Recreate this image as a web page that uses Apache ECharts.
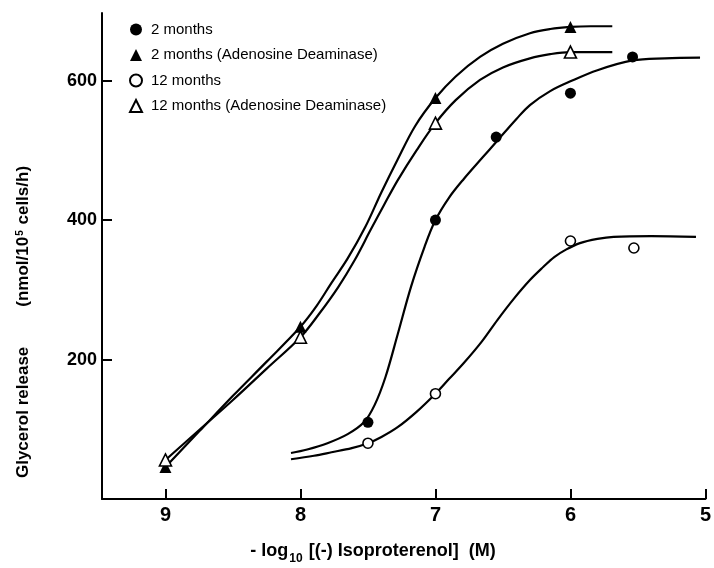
<!DOCTYPE html>
<html><head><meta charset="utf-8">
<script src="https://cdn.jsdelivr.net/npm/echarts@6/dist/echarts.min.js"></script>
<style>html,body{margin:0;padding:0;background:#fff}#c{width:714px;height:568px}</style>
</head><body><div id="c"></div>
<script>
// axis ticks
const xTicks = [9, 8, 7, 6, 5];
const yTicks = [200, 400, 600];
// series names
const names = ['2 months', '2 months (Adenosine Deaminase)', '12 months', '12 months (Adenosine Deaminase)'];
// measured points
const m2X = [7.5, 7.0, 6.55, 6.0, 5.54];
const m2Y = [110, 400, 519, 582, 634];
const m2adX = [9, 8, 7, 6];
const m2adY = [46, 247, 575, 677];
const m12X = [7.5, 7.0, 6.0, 5.53];
const m12Y = [80, 151, 370, 360];
const m12adX = [9, 8, 7, 6];
const m12adY = [56, 232, 539, 641];
// fitted curves
const c2X = [8.07, 7.95, 7.8, 7.65, 7.53, 7.45, 7.37, 7.28, 7.18, 7.08, 7.0, 6.9, 6.79, 6.65, 6.55, 6.4, 6.3, 6.15, 6.0, 5.8, 5.54, 5.3, 5.04];
const c2Y = [66, 71, 80, 93, 110, 135, 175, 236, 305, 362, 400, 432, 459, 490, 512, 545, 565, 585, 599, 615, 629, 632, 633];
const c12X = [8.07, 7.9, 7.77, 7.62, 7.5, 7.4, 7.28, 7.14, 7.0, 6.9, 6.79, 6.66, 6.54, 6.42, 6.3, 6.2, 6.12, 6.03, 5.93, 5.8, 5.68, 5.4, 5.07];
const c12Y = [57, 62, 67, 73, 80, 89, 103, 125, 151, 172, 195, 225, 257, 287, 314, 333, 347, 358, 367, 373, 376, 377, 376];
const c2adX = [9, 8.75, 8.5, 8.25, 8, 7.88, 7.77, 7.65, 7.52, 7.4, 7.28, 7.15, 7.0, 6.85, 6.67, 6.5, 6.3, 6.15, 6.0, 5.85, 5.69];
const c2adY = [46, 97, 148, 197, 247, 277, 310, 345, 390, 440, 487, 535, 575, 606, 634, 653, 668, 674, 677, 678, 678];
const c12adX = [9, 8.75, 8.5, 8.25, 8, 7.86, 7.72, 7.6, 7.48, 7.38, 7.28, 7.14, 7.0, 6.85, 6.67, 6.5, 6.3, 6.15, 6.0, 5.85, 5.69];
const c12adY = [56, 99, 142, 187, 232, 266, 304, 342, 386, 422, 457, 500, 539, 572, 601, 619, 632, 638, 641, 641, 641];

const zip = (xs, ys) => xs.map((x, i) => [x, ys[i]]);
const FONT = '"Liberation Sans", Arial, Helvetica, sans-serif';

function curve(name, xs, ys) {
  return {
    name: name, type: 'line', data: zip(xs, ys), showSymbol: false, smooth: 0.35,
    lineStyle: { color: '#000', width: 2.2 }, silent: true, z: 2
  };
}
function pts(name, xs, ys, symbol, size, filled) {
  return {
    name: name, type: 'scatter', data: zip(xs, ys), symbol: symbol, symbolSize: size,
    itemStyle: filled ? { color: '#000', opacity: 1 } : { color: '#fff', borderColor: '#000', borderWidth: 1.6, opacity: 1 },
    z: 4
  };
}

const chart = echarts.init(document.getElementById('c'));
chart.setOption({
  animation: false,
  backgroundColor: '#fff',
  grid: { left: 102, right: 5, top: 13, bottom: 69 },
  xAxis: {
    type: 'value', inverse: true, min: 5, max: 9.47, interval: 1,
    axisLine: { show: true, onZero: false, lineStyle: { color: '#000', width: 2 } },
    axisTick: { show: true, inside: true, length: 10, customValues: xTicks, lineStyle: { color: '#000', width: 2 } },
    axisLabel: { customValues: xTicks, color: '#000', fontFamily: FONT, fontWeight: 'bold', fontSize: 20, margin: 6 },
    splitLine: { show: false }
  },
  yAxis: {
    type: 'value', min: 0, max: 697, interval: 200,
    axisLine: { show: true, onZero: false, lineStyle: { color: '#000', width: 2 } },
    axisTick: { show: true, inside: true, length: 10, customValues: yTicks, lineStyle: { color: '#000', width: 2 } },
    axisLabel: { customValues: yTicks, color: '#000', fontFamily: FONT, fontWeight: 'bold', fontSize: 18, margin: 5 },
    splitLine: { show: false }
  },
  legend: {
    orient: 'vertical', left: 124, top: 17, itemWidth: 12, itemHeight: 12, itemGap: 10.5,
    data: names,
    textStyle: { fontFamily: FONT, fontSize: 15, color: '#000', padding: [0, 0, 0, 4] }
  },
  graphic: [
    {
      type: 'text', x: 373, y: 553, silent: true,
      style: {
        text: '{a|- log}{s|10}{a| [(-) Isoproterenol]  (M)}',
        rich: {
          a: { fontFamily: FONT, fontWeight: 'bold', fontSize: 18, lineHeight: 22, verticalAlign: 'top', fill: '#000' },
          s: { fontFamily: FONT, fontWeight: 'bold', fontSize: 12, lineHeight: 12, padding: [11, 1, 0, 1], verticalAlign: 'top', fill: '#000' }
        },
        align: 'center', verticalAlign: 'middle', textAlign: 'center', textVerticalAlign: 'middle', fill: '#000'
      }
    },
    {
      type: 'text', x: 25, y: 322, rotation: Math.PI / 2, silent: true,
      style: {
        text: '{a|Glycerol release}{g|}{a|(nmol/10}{p|5}{a| cells/h)}',
        rich: {
          a: { fontFamily: FONT, fontWeight: 'bold', fontSize: 17, lineHeight: 20, verticalAlign: 'top', fill: '#000' },
          g: { width: 40, lineHeight: 20 },
          p: { fontFamily: FONT, fontWeight: 'bold', fontSize: 10, lineHeight: 10, padding: [0, 1, 10, 1], verticalAlign: 'top', fill: '#000' }
        },
        align: 'center', verticalAlign: 'middle', textAlign: 'center', textVerticalAlign: 'middle', fill: '#000'
      }
    }
  ],
  series: [
    curve('fit2', c2X, c2Y),
    curve('fit2ad', c2adX, c2adY),
    curve('fit12', c12X, c12Y),
    curve('fit12ad', c12adX, c12adY),
    pts(names[0], m2X, m2Y, 'circle', 11, true),
    pts(names[1], m2adX, m2adY, 'triangle', 12, true),
    pts(names[2], m12X, m12Y, 'circle', 10, false),
    pts(names[3], m12adX, m12adY, 'triangle', 12, false)
  ]
});
</script>
</body></html>
